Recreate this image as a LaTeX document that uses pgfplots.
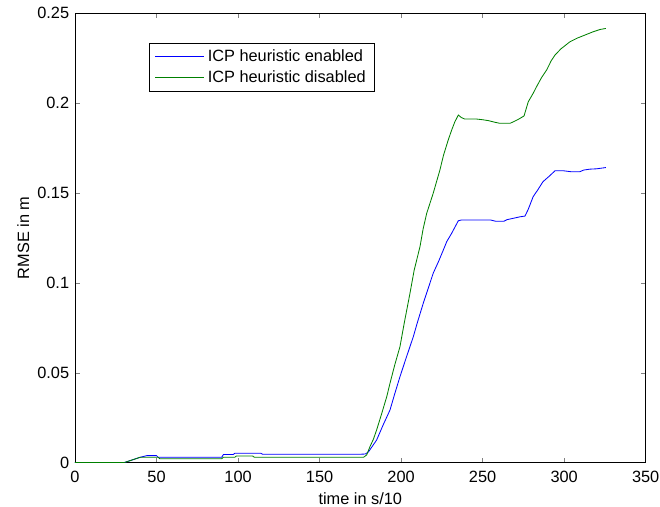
\documentclass[border=0pt]{standalone}
\usepackage{fontspec}
\setmainfont{Liberation Sans}
\usepackage{pgfplots}
\pgfplotsset{compat=1.18}

\definecolor{mblue}{rgb}{0,0,1}
\definecolor{mgreen}{rgb}{0,0.5,0}

\begin{document}
\begin{tikzpicture}
% frame of the whole picture, 1px = 0.6pt
\path[use as bounding box] (-45pt,-26.6pt) rectangle (351pt,277.6pt);
\begin{axis}[
  at={(0,0)}, anchor=south west,
  scale only axis,
  width=342.4pt, height=269.6pt,
  xmin=0, xmax=350, ymin=0, ymax=0.25,
  xtick={0,50,...,350},
  ytick={0,0.05,0.1,0.15,0.2,0.25},
  yticklabels={0,0.05,0.1,0.15,0.2,0.25},
  scaled y ticks=false,
  tick align=inside, tick pos=both,
  major tick length=3pt,
  /pgf/number format/assume math mode=true,
  font=\fontsize{9.8}{11.8}\selectfont,
  xlabel={time in s/10},
  ylabel={RMSE in m},
  xlabel style={yshift=1pt},
  ylabel style={yshift=-2pt},
  xticklabel style={yshift=-1.5pt},
  axis line style={line width=0.5pt},
  legend style={at={(0.13,0.935)}, anchor=north west, draw=black,
    line width=0.5pt, inner xsep=3pt, inner ysep=2pt,
    cells={anchor=west}, row sep=0pt},
  legend image code/.code={\draw[#1] (0pt,0pt) -- (29.4pt,0pt);},
]
\addplot[mblue, line width=0.5pt] coordinates {
  (0,0)(30,0)(35,0.0015)(40,0.003)(44,0.0039)(50,0.0039)(51,0.003)(90,0.003)
  (91,0.0045)(97,0.0045)(98,0.0052)(114,0.0052)(115,0.0047)(175,0.0047)
  (178,0.0048)(180,0.006)(185,0.0126)(189,0.021)(193.2,0.0293)(196,0.038)
  (199.3,0.0478)(203,0.058)(207.5,0.0701)(210,0.078)(213.6,0.0887)(217,0.098)
  (219.7,0.1054)(223,0.112)(225.9,0.1183)(228,0.123)(231,0.1276)(233,0.131)
  (235.1,0.1346)(237,0.135)(242,0.135)(255,0.135)(258,0.1343)(263,0.1343)
  (265,0.1352)(269,0.136)(273,0.1368)(276,0.1372)(278,0.141)(281,0.148)
  (284,0.152)(287,0.1563)(291,0.1595)(294.4,0.1624)(299.5,0.1624)(304,0.1619)
  (309.7,0.1619)(312,0.1628)(315.8,0.1633)(320,0.1635)(325.6,0.1642)
};
\addplot[mgreen, line width=0.5pt] coordinates {
  (0,0)(30,0)(35,0.0015)(40,0.003)(51,0.003)(52,0.0022)(90,0.0022)(91,0.003)
  (98,0.003)(99,0.0037)(109,0.0037)(110,0.003)(177,0.003)(178.9,0.0043)
  (180.9,0.0089)(183,0.013)(185,0.0182)(188,0.027)(191.2,0.0367)(193.2,0.0442)
  (196,0.054)(199.3,0.0645)(202,0.078)(205.4,0.094)(208,0.107)(211.6,0.1202)
  (213.5,0.13)(215.7,0.1387)(219.7,0.1499)(223.8,0.1628)(226,0.171)
  (228.9,0.1795)(231,0.185)(233,0.1897)(235.1,0.1934)(237,0.192)(239,0.1912)
  (246,0.1912)(250,0.1908)(253.5,0.1903)(257,0.1895)(260.6,0.1888)
  (266.8,0.1888)(269,0.1897)(271.9,0.191)(275.4,0.1929)(278,0.2008)
  (281,0.2055)(283.1,0.2092)(286,0.214)(289.3,0.2185)(292,0.2235)
  (294.4,0.2268)(298,0.2302)(303.6,0.2342)(308,0.2362)(313.8,0.2383)
  (318,0.2398)(322,0.241)(325.6,0.2416)
};
\legend{ICP heuristic enabled, ICP heuristic disabled}
\end{axis}
\end{tikzpicture}
\end{document}
